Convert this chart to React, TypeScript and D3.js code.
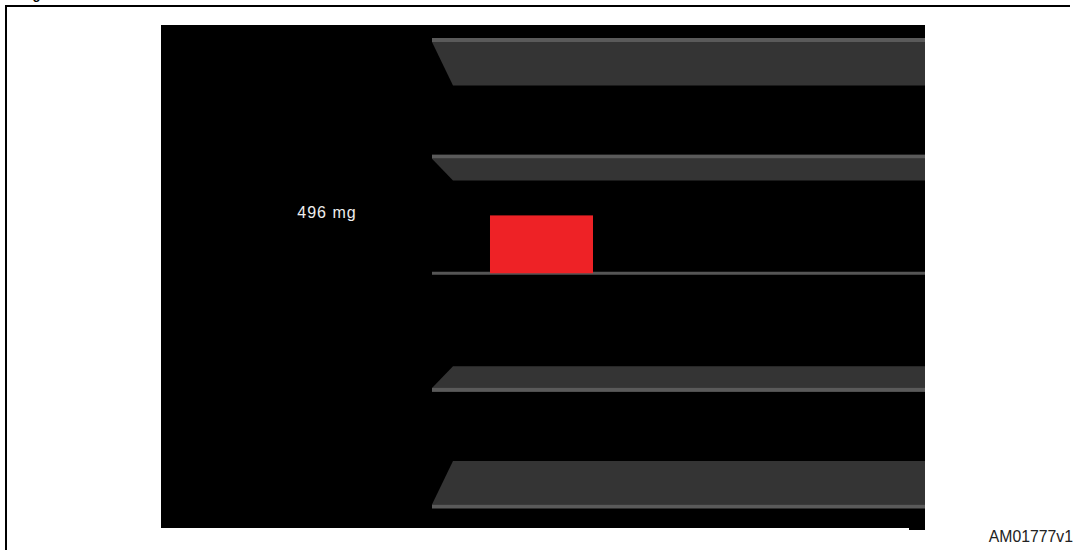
import React from "react";
import * as d3 from "d3";

// ---- data ----
const levels: number[] = [2000, 1000, 0, -1000, -2000]; // mg reference planes
const axes: string[] = ["X"];
const values: number[] = [496]; // mg
const valueLabels: string[] = ["496 mg"];
const figureId = "AM01777v1";

const W = 1080;
const H = 550;

export default function App() {
  const panel = { x: 161, y: 25, w: 764, h: 503 };
  const shelfLeft = 432;
  const shelfRight = 925;
  const slant = 21;

  const y = d3.scaleLinear().domain([-2000, 2000]).range([506.5, 40]);
  const depth = d3.scaleLinear().domain([0, 2000]).range([0, 43.5]);
  const x = d3
    .scaleBand<string>()
    .domain(axes)
    .range([shelfLeft, shelfRight])
    .paddingInner(0)
    .paddingOuter(1.893)
    .align(0.1487);

  const shelves = levels.map((lv) => {
    const yc = y(lv);
    const d = depth(Math.abs(lv));
    if (lv === 0) {
      return (
        <rect key={lv} x={shelfLeft} y={yc - 1.5} width={shelfRight - shelfLeft} height={3} fill="#555555" />
      );
    }
    const lineH = 4;
    let body: string;
    let lineY: number;
    if (lv > 0) {
      lineY = yc - lineH / 2;
      const y0 = yc + lineH / 2;
      const y1 = y0 + d;
      body = `M${shelfLeft},${y0}L${shelfRight},${y0}L${shelfRight},${y1}L${shelfLeft + slant},${y1}Z`;
    } else {
      lineY = yc - lineH / 2;
      const y0 = yc - lineH / 2;
      const y1 = y0 - d;
      body = `M${shelfLeft},${y0}L${shelfRight},${y0}L${shelfRight},${y1}L${shelfLeft + slant},${y1}Z`;
    }
    return (
      <g key={lv}>
        <path d={body} fill="#343434" />
        <rect x={shelfLeft} y={lineY} width={shelfRight - shelfLeft} height={lineH} fill="#5a5a5a" />
      </g>
    );
  });

  return (
    <svg
      width={W}
      height={H}
      style={{ position: "absolute", left: 0, top: 0, display: "block", background: "#ffffff" }}
    >
      <rect x={0} y={0} width={W} height={H} fill="#ffffff" />
      {/* figure caption, mostly cut off at the top */}
      <text x={21} y={-1} fontFamily="Liberation Sans, Arial, sans-serif" fontWeight="bold" fontSize={13} fill="#000">
        Figure
      </text>
      {/* frame */}
      <path d={`M6,${H}L6,6L1070,6`} fill="none" stroke="#000" strokeWidth={2} />
      {/* black display panel */}
      <rect x={panel.x} y={panel.y} width={panel.w} height={panel.h} fill="#000" />
      <rect x={909} y={panel.y + panel.h} width={16} height={2} fill="#000" />
      {shelves}
      {axes.map((a, i) => (
        <rect
          key={a}
          x={x(a)!}
          y={y(values[i])}
          width={x.bandwidth()}
          height={y(0) - y(values[i])}
          fill="#ee2226"
        />
      ))}
      {valueLabels.map((lbl, i) => (
        <text
          key={i}
          x={327}
          y={218.3}
          textAnchor="middle"
          fontFamily="Liberation Sans, Arial, sans-serif"
          fontSize={16}
          letterSpacing={1}
          fill="#eeeeee"
        >
          {lbl}
        </text>
      ))}
      <text
        x={1073}
        y={541.7}
        textAnchor="end"
        fontFamily="Liberation Sans, Arial, sans-serif"
        fontSize={15.8}
        fill="#222222"
      >
        {figureId}
      </text>
    </svg>
  );
}
